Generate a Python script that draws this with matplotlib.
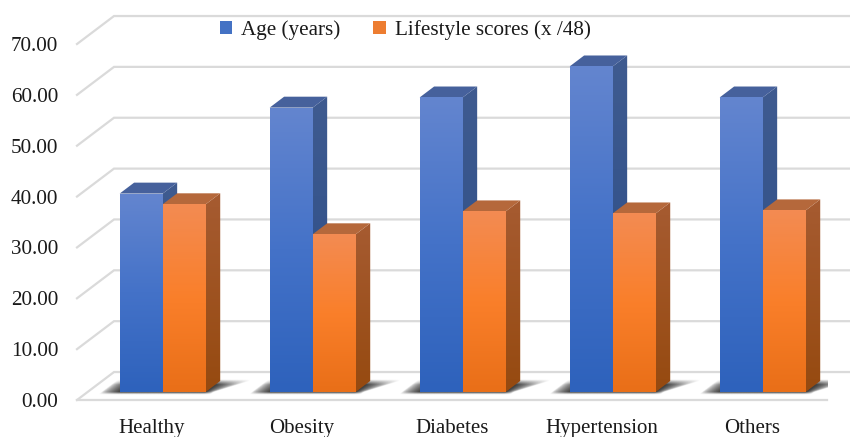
import numpy as np
import matplotlib
matplotlib.use('Agg')
import matplotlib.pyplot as plt
from matplotlib.colors import LinearSegmentedColormap
from matplotlib.patches import Patch, Polygon

plt.rcParams['font.family'] = ['Liberation Serif', 'DejaVu Serif']

# data
categories = ['Healthy', 'Obesity', 'Diabetes', 'Hypertension', 'Others']
age_years = [39.0, 55.9, 57.9, 64.0, 57.9]
lifestyle_scores = [36.9, 31.0, 35.5, 35.1, 35.7]
y_ticks = [0, 10, 20, 30, 40, 50, 60, 70]

# oblique 3D look: one unit of depth moves a point this far in data units
DX = 0.2467
DY = 5.5
BAR_W = 0.287
D0, D1 = 0.29, 0.68

BLUE = dict(front=['#6385CF', '#4472C8', '#2E62BC'], side=['#3F5B90', '#2A4C87'], top='#46619C')
ORANGE = dict(front=['#F38B52', '#FA7F2A', '#E96F18'], side=['#A65B31', '#964A10'], top='#B5683B')


def proj(x, v, d):
    return (x + d * DX, v + d * DY)


def gradient_face(ax, pts, colors, zorder):
    # vertical gradient image clipped to the polygon of the face
    pts = np.array(pts)
    cmap = LinearSegmentedColormap.from_list('face', colors)
    im = ax.imshow(np.linspace(0, 1, 64).reshape(-1, 1), cmap=cmap, aspect='auto', origin='upper',
                   extent=(pts[:, 0].min(), pts[:, 0].max(), pts[:, 1].min(), pts[:, 1].max()),
                   zorder=zorder, interpolation='bilinear')
    clip = Polygon(pts, closed=True, transform=ax.transData, fc='none', ec='none')
    ax.add_patch(clip)
    im.set_clip_path(clip)


def draw_bar(ax, x0, value, style, zorder):
    x1 = x0 + BAR_W
    side = [proj(x1, 0, D0), proj(x1, 0, D1), proj(x1, value, D1), proj(x1, value, D0)]
    gradient_face(ax, side, style['side'], zorder)
    top = [proj(x0, value, D0), proj(x1, value, D0), proj(x1, value, D1), proj(x0, value, D1)]
    ax.add_patch(Polygon(top, closed=True, fc=style['top'], ec='none', zorder=zorder + 0.1))
    front = [proj(x0, 0, D0), proj(x1, 0, D0), proj(x1, value, D0), proj(x0, value, D0)]
    gradient_face(ax, front, style['front'], zorder + 0.2)


def draw_shadow(ax, center):
    # soft dark patch on the floor around the foot of a bar pair
    xs = np.linspace(center - 0.55, center + 0.75, 300)
    vs = np.linspace(-0.5, 4.5, 90)
    xx, vv = np.meshgrid(xs, vs)
    base_v = D0 * DY
    t = np.clip((vv - base_v) / ((D1 - D0) * DY), 0, 1)
    uu = xx - D0 * DX - (vv - base_v) * DX / DY
    left = center - BAR_W
    right = center + BAR_W
    reach_r = 0.05 + 0.14 * t
    a_l = np.clip((uu - (left - 0.12)) / 0.12, 0, 1) ** 0.55
    a_r = np.clip(((right + reach_r) - uu) / reach_r, 0, 1) ** 0.55
    a_b = np.clip((vv - (base_v - 0.5)) / 0.5, 0, 1)
    a_t = np.clip(((D1 * DY + 0.3) - vv) / 1.0, 0, 1)
    rgba = np.zeros(xx.shape + (4,))
    rgba[..., :3] = 0.2
    rgba[..., 3] = 0.95 * a_l * a_r * a_b * a_t
    ax.imshow(rgba, origin='lower', aspect='auto', extent=(xs[0], xs[-1], vs[0], vs[-1]),
              zorder=2, interpolation='bilinear')


fig = plt.figure(figsize=(8.5, 4.37), dpi=100)
ax = fig.add_axes([77 / 850, 37 / 437, 750 / 850, 356 / 437])

# walls and floor
grid_c = '#DADADA'
for v in y_ticks:
    ax.plot([-0.5, -0.5 + DX, 4.5 + DX], [v, v + DY, v + DY], color=grid_c, lw=1.6, zorder=1,
            clip_on=False, solid_joinstyle='miter')
ax.plot([-0.5, 4.5], [0, 0], color=grid_c, lw=1.6, zorder=1, clip_on=False)

for i in range(len(categories)):
    draw_shadow(ax, i)
    draw_bar(ax, i - BAR_W, age_years[i], BLUE, 3 + i)
    draw_bar(ax, i, lifestyle_scores[i], ORANGE, 3.5 + i)

ax.set_xlim(-0.5, 4.5)
ax.set_ylim(0, 70)
ax.set_xticks(range(len(categories)))
ax.set_xticklabels(categories, fontsize=15)
ax.set_yticks(y_ticks)
ax.set_yticklabels(['%.2f' % v for v in y_ticks], fontsize=15.2)
ax.tick_params(axis='x', length=0, pad=14, colors='#1a1a1a')
ax.tick_params(axis='y', length=0, pad=13.5, colors='#1a1a1a')
for s in ax.spines.values():
    s.set_visible(False)
ax.patch.set_alpha(0)

handles = [Patch(fc='#4472C4', ec='none', label='Age (years)'),
           Patch(fc='#ED7D31', ec='none', label='Lifestyle scores (x /48)')]
leg = ax.legend(handles=handles, ncol=2, fontsize=15.2, frameon=False, loc='center',
                bbox_to_anchor=(405 / 850, 1 - 30 / 437), bbox_transform=fig.transFigure,
                handlelength=0.6, handleheight=0.6, handletextpad=0.42, columnspacing=1.55,
                labelcolor='#1a1a1a')
leg.set_zorder(20)

fig.savefig('out.png', dpi=100)
